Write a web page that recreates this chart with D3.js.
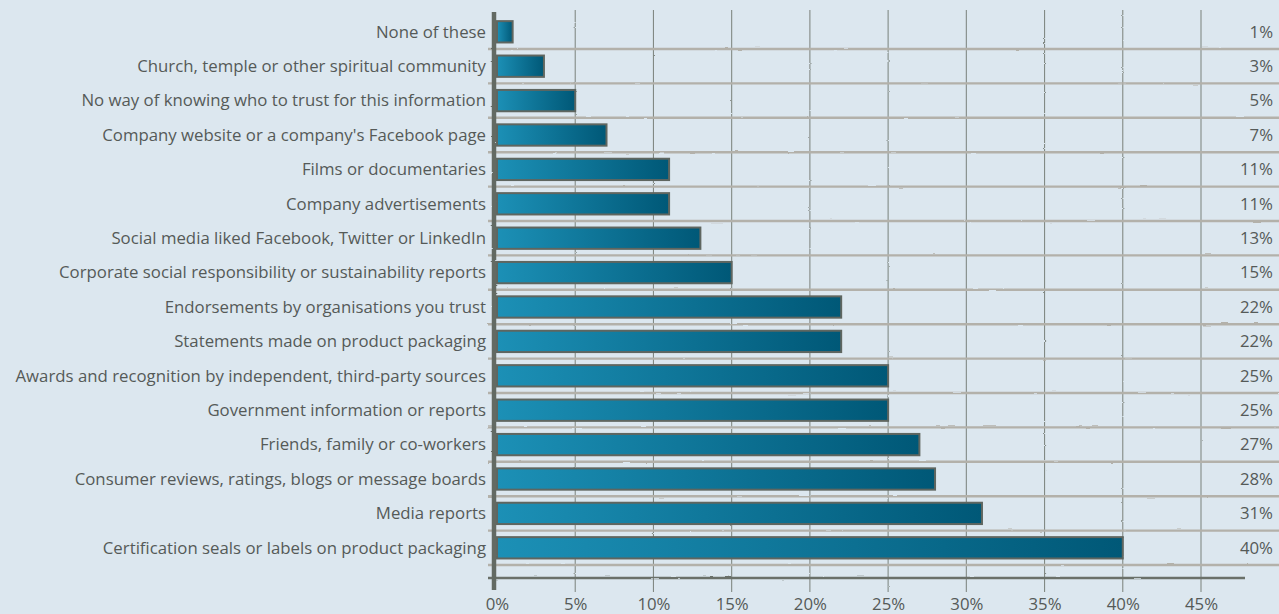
<!DOCTYPE html>
<html>
<head>
<meta charset="utf-8">
<script src="https://cdn.jsdelivr.net/npm/d3@7"></script>
<style>
  html, body { margin: 0; padding: 0; background: #dce7ef; }
  svg { display: block; }
  text { font-family: "Open Sans", "Liberation Sans", sans-serif; fill: #555a58; }
</style>
</head>
<body>
<svg id="chart" width="1279" height="614"></svg>
<script>
// Sources people trust for information, share of respondents (%)
const categories = [
  "None of these",
  "Church, temple or other spiritual community",
  "No way of knowing who to trust for this information",
  "Company website or a company's Facebook page",
  "Films or documentaries",
  "Company advertisements",
  "Social media liked Facebook, Twitter or LinkedIn",
  "Corporate social responsibility or sustainability reports",
  "Endorsements by organisations you trust",
  "Statements made on product packaging",
  "Awards and recognition by independent, third-party sources",
  "Government information or reports",
  "Friends, family or co-workers",
  "Consumer reviews, ratings, blogs or message boards",
  "Media reports",
  "Certification seals or labels on product packaging"
];
const values = [1, 3, 5, 7, 11, 11, 13, 15, 22, 22, 25, 25, 27, 28, 31, 40];
const tickValues = [0, 5, 10, 15, 20, 25, 30, 35, 40, 45];

const svg = d3.select("#chart");
const W = 1279, H = 614;
const FS = 16.8;

const x = d3.scaleLinear().domain([0, 45]).range([497, 1201]);
const y = d3.scaleBand().domain(categories).range([14.6, 565]).paddingInner(0.38).paddingOuter(0.19);
const rowTop = d3.scaleBand().domain(categories).range([14.6, 565]).padding(0);
const rowStep = rowTop.step();

// Slightly rough line filter for the hand-drawn look
const defs = svg.append("defs");
const rough = defs.append("filter").attr("id", "rough")
  .attr("filterUnits", "userSpaceOnUse")
  .attr("x", 0).attr("y", 0).attr("width", W).attr("height", H);
rough.append("feTurbulence").attr("type", "fractalNoise").attr("baseFrequency", "0.06 0.4")
  .attr("numOctaves", 2).attr("seed", 3).attr("result", "noise");
rough.append("feDisplacementMap").attr("in", "SourceGraphic").attr("in2", "noise")
  .attr("scale", 1.8).attr("xChannelSelector", "R").attr("yChannelSelector", "G");

const grad = defs.append("linearGradient").attr("id", "barGrad")
  .attr("x1", "0").attr("x2", "1").attr("y1", "0").attr("y2", "0");
grad.append("stop").attr("offset", "0%").attr("stop-color", "#1c90b6");
grad.append("stop").attr("offset", "100%").attr("stop-color", "#005877");

// Vertical tick lines
svg.append("g").attr("filter", "url(#rough)")
  .selectAll("line").data(tickValues.slice(1)).join("line")
  .attr("x1", d => x(d)).attr("x2", d => x(d))
  .attr("y1", 10).attr("y2", 592)
  .attr("stroke", "#828a85").attr("stroke-width", 1.1);

// Horizontal row separators
svg.append("g").attr("filter", "url(#rough)")
  .selectAll("line").data(categories).join("line")
  .attr("x1", 488).attr("x2", W)
  .attr("y1", d => rowTop(d) + rowStep).attr("y2", d => rowTop(d) + rowStep)
  .attr("stroke", "#b3b1aa").attr("stroke-width", 2.4);

// Bottom axis line
svg.append("g").attr("filter", "url(#rough)").append("line")
  .attr("x1", 488).attr("x2", 1245).attr("y1", 578).attr("y2", 578)
  .attr("stroke", "#6a7069").attr("stroke-width", 2.4);

// Bars
svg.append("g").selectAll("rect").data(values).join("rect")
  .attr("x", x(0))
  .attr("y", (d, i) => y(categories[i]))
  .attr("width", d => x(d) - x(0))
  .attr("height", y.bandwidth())
  .attr("fill", "url(#barGrad)")
  .attr("stroke", "#5f6660").attr("stroke-width", 2);

// Vertical axis line
svg.append("g").attr("filter", "url(#rough)").append("line")
  .attr("x1", 494).attr("x2", 494).attr("y1", 12).attr("y2", 590)
  .attr("stroke", "#646a64").attr("stroke-width", 4.5);

// Category labels
svg.append("g").selectAll("text").data(categories).join("text")
  .attr("x", 486)
  .attr("y", d => y(d) + y.bandwidth() / 2)
  .attr("dy", "0.35em")
  .attr("text-anchor", "end")
  .attr("font-size", FS)
  .text(d => d);

// Value labels on the right
svg.append("g").selectAll("text").data(values).join("text")
  .attr("x", 1273)
  .attr("y", (d, i) => y(categories[i]) + y.bandwidth() / 2)
  .attr("dy", "0.35em")
  .attr("text-anchor", "end")
  .attr("font-size", FS)
  .text(d => d + "%");

// X axis tick labels
const xAxis = d3.axisBottom(x).tickValues(tickValues).tickFormat(d => d + "%").tickSize(0).tickPadding(0);
const gx = svg.append("g").attr("transform", "translate(0,610)").call(xAxis);
gx.select(".domain").remove();
gx.selectAll("text")
  .attr("dy", null)
  .attr("font-size", FS)
  .attr("font-family", "\"Open Sans\", \"Liberation Sans\", sans-serif")
  .attr("fill", "#555a58");
</script>
</body>
</html>
